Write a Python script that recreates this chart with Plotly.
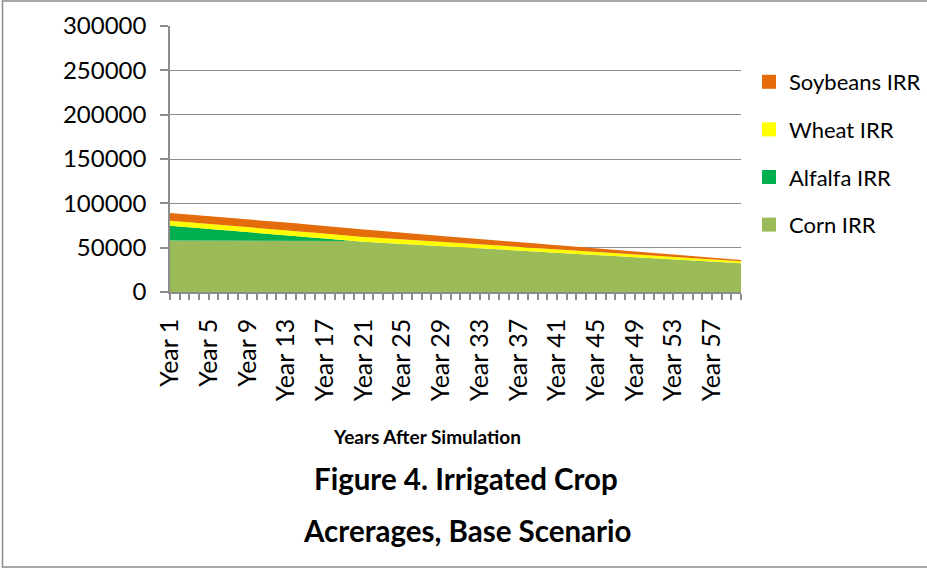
import plotly.graph_objects as go

years = list(range(1, 61))
year_labels = ["Year %d" % y for y in years]

corn_irr = [58000] * 19 + [
    57400, 56800, 56100, 55500, 54900, 54300, 53600, 53000, 52400, 51800,
    51100, 50500, 49900, 49300, 48600, 48000, 47400, 46800, 46100, 45500,
    44900, 44300, 43600, 43000, 42400, 41800, 41100, 40500, 39900, 39300,
    38600, 38000, 37400, 36800, 36100, 35500, 34900, 34300, 33600, 33000,
    32400]
alfalfa_irr = [16600, 15750, 14900, 14050, 13200, 12350, 11500, 10650, 9800, 8950,
               8100, 7300, 6500, 5500, 4400, 3300, 2200, 1100, 0] + [0] * 41
wheat_irr = [5700, 5700, 5650, 5600, 5600, 5550, 5500, 5500, 5450, 5400,
             5400, 5350, 5300, 5350, 5400, 5450, 5500, 5500, 5450, 5400,
             5350, 5300, 5200, 5100, 5000, 4900, 4800, 4700, 4600, 4500,
             4400, 4300, 4200, 4100, 4000, 3950, 3900, 3800, 3750, 3700,
             3650, 3600, 3550, 3500, 3450, 3400, 3350, 3300, 3250, 3200,
             3100, 3000, 2900, 2800, 2700, 2600, 2500, 2450, 2400, 2300]
soybeans_irr = [8700, 8700, 8700, 8700, 8700, 8650, 8650, 8650, 8650, 8600,
                8600, 8600, 8600, 8550, 8500, 8450, 8400, 8350, 8300, 8250,
                8200, 8150, 8050, 8000, 7900, 7700, 7500, 7250, 7000, 6800,
                6550, 6350, 6100, 5900, 5650, 5450, 5200, 5000, 4850, 4650,
                4500, 4350, 4150, 4000, 3850, 3650, 3500, 3350, 3150, 3000,
                2850, 2700, 2550, 2400, 2250, 2100, 1950, 1800, 1650, 1500]

series = [
    ("Corn IRR", corn_irr, "#9BBB59"),
    ("Alfalfa IRR", alfalfa_irr, "#00B050"),
    ("Wheat IRR", wheat_irr, "#FFFF00"),
    ("Soybeans IRR", soybeans_irr, "#E46C0A"),
]

y_ticks = [0, 50000, 100000, 150000, 200000, 250000, 300000]
x_tick_vals = years[::4]
x_tick_text = year_labels[::4]

FONT = "Lato, Carlito, Calibri, sans-serif"
GRID = "#8c8c8c"

fig = go.Figure()
for name, vals, color in series:
    fig.add_trace(go.Scatter(
        x=years, y=vals, name=name, stackgroup="crops", mode="lines",
        line=dict(width=0, color=color), fillcolor=color, showlegend=False,
        hoverinfo="x+y+name"))

# legend entries (square swatches), top to bottom
for i, (name, vals, color) in enumerate(reversed(series)):
    fig.add_trace(go.Scatter(
        x=[None], y=[None], mode="markers", name=name, legendgroup="g%d" % i,
        marker=dict(symbol="square", size=14, color=color)))

def px_x(p):
    return (p - 170) / 571.0

def px_y(p):
    return (292 - p) / 266.0

fig.update_layout(
    width=927, height=569,
    margin=dict(l=170, r=186, t=26, b=277, autoexpand=False),
    paper_bgcolor="white", plot_bgcolor="white",
    font=dict(family=FONT, size=22, color="#000000"),
    showlegend=True,
    legend=dict(x=px_x(749), y=px_y(61), xanchor="left", yanchor="top",
                traceorder="grouped", tracegroupgap=16,
                font=dict(family=FONT, size=22, color="#000000"),
                bgcolor="rgba(0,0,0,0)"),
    xaxis=dict(range=[1, 60], tickmode="array", tickvals=x_tick_vals,
               ticktext=x_tick_text, tickangle=-90, ticks="outside", ticklen=6,
               tickcolor=GRID, tickwidth=1.5, ticklabelstandoff=9,
               minor=dict(dtick=1, tick0=1, ticks="outside", ticklen=6,
                          tickcolor=GRID, tickwidth=1.5, showgrid=False),
               showline=True, linecolor=GRID, linewidth=1.5, showgrid=False,
               zeroline=False, tickfont=dict(family=FONT, size=25)),
    yaxis=dict(range=[0, 300000], tickmode="array", tickvals=y_ticks,
               ticktext=[str(v) for v in y_ticks], ticks="outside", ticklen=8,
               tickcolor=GRID, tickwidth=1.5, ticklabelstandoff=9,
               showline=True, linecolor=GRID,
               linewidth=1.5, showgrid=True, gridcolor=GRID, gridwidth=1.3,
               zeroline=False, tickfont=dict(family=FONT, size=24)),
)

fig.add_annotation(text="<b>Years After Simulation</b>", xref="paper", yref="paper",
                   x=px_x(427), y=px_y(437), xanchor="center", yanchor="middle",
                   showarrow=False, font=dict(family=FONT, size=19, color="#000000"))
fig.add_annotation(text="<b>Figure 4. Irrigated Crop</b>", xref="paper", yref="paper",
                   x=px_x(466), y=px_y(478), xanchor="center", yanchor="middle",
                   showarrow=False, font=dict(family=FONT, size=29.5, color="#000000"))
fig.add_annotation(text="<b>Acrerages, Base Scenario</b>", xref="paper", yref="paper",
                   x=px_x(467), y=px_y(530), xanchor="center", yanchor="middle",
                   showarrow=False, font=dict(family=FONT, size=29.5, color="#000000"))

fig.add_shape(type="rect", xref="paper", yref="paper",
              x0=px_x(2.5), x1=px_x(940), y0=px_y(567), y1=px_y(1),
              line=dict(color="#8c8c8c", width=1.5), fillcolor="rgba(0,0,0,0)",
              layer="below")

fig.write_html("out.html", config={"displayModeBar": False},
               post_script="document.body.style.margin='0';document.body.style.overflow='hidden';")
